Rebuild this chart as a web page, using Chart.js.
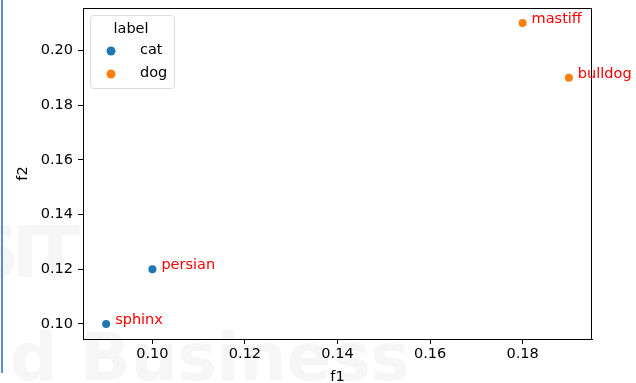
<!DOCTYPE html>
<html>
<head>
<meta charset="utf-8">
<script src="https://cdn.jsdelivr.net/npm/chart.js@4/dist/chart.umd.min.js"></script>
<style>
  html, body { margin: 0; padding: 0; background: #fff; }
  #wrap { position: relative; width: 636px; height: 383px; overflow: hidden; }
  #edge { position: absolute; left: 1px; top: 0; width: 2px; height: 373px; background: #5b8ad6; }
  .wm { position: absolute; font-family: "DejaVu Sans"; font-weight: bold; line-height: 1; color: #f6f6f6; white-space: nowrap; }
  canvas { position: absolute; left: 0; top: 0; }
</style>
</head>
<body>
<div id="wrap">
  <div class="wm" style="left:-32px; top:216px; font-size:72px; letter-spacing:-8px;">SIT</div>
  <div class="wm" style="left:10px; top:325px; font-size:66px;">d Business</div>
  <div id="edge"></div>
  <canvas id="chart" width="636" height="383"></canvas>
</div>
<script>
const names = ["sphinx", "persian", "mastiff", "bulldog"];
const f1 = [0.09, 0.10, 0.18, 0.19];
const f2 = [0.10, 0.12, 0.21, 0.19];
const labels = ["cat", "cat", "dog", "dog"];
const groups = ["cat", "dog"];
const groupColors = ["#1f77b4", "#ff7f0e"];
const xTicks = [0.10, 0.12, 0.14, 0.16, 0.18];
const yTicks = [0.10, 0.12, 0.14, 0.16, 0.18, 0.20];

const FONT = "DejaVu Sans";
const FS = 14.5;

const datasets = groups.map((g, gi) => ({
    label: g,
    data: f1.map((x, i) => ({ x: x, y: f2[i], g: labels[i] })).filter(p => p.g === g),
    backgroundColor: groupColors[gi],
    borderColor: groupColors[gi],
    pointRadius: 4,
    borderWidth: 0
}));

// names next to the points, plus the top/right frame
const annotate = {
    id: "annotate",
    afterDatasetsDraw(chart) {
        const ctx = chart.ctx;
        const xs = chart.scales.x, ys = chart.scales.y;
        const a = chart.chartArea;
        ctx.save();
        ctx.strokeStyle = "#000";
        ctx.lineWidth = 1;
        ctx.beginPath();
        ctx.moveTo(a.left, a.top + 0.5);
        ctx.lineTo(a.right - 0.5, a.top + 0.5);
        ctx.lineTo(a.right - 0.5, a.bottom);
        ctx.stroke();
        ctx.fillStyle = "red";
        ctx.font = FS + "px '" + FONT + "'";
        ctx.textBaseline = "middle";
        names.forEach((n, i) => {
            ctx.fillText(n, xs.getPixelForValue(f1[i]) + 9, ys.getPixelForValue(f2[i]) - 4);
        });
        ctx.restore();
    }
};

// matplotlib-like legend box inside the plot
const boxLegend = {
    id: "boxLegend",
    afterDraw(chart) {
        const ctx = chart.ctx;
        const x0 = 90, y0 = 15, w = 84, h = 73;
        ctx.save();
        ctx.fillStyle = "rgba(255,255,255,0.8)";
        ctx.strokeStyle = "#dcdcdc";
        ctx.lineWidth = 1;
        ctx.beginPath();
        ctx.roundRect(x0 + 0.5, y0 + 0.5, w, h, 3);
        ctx.fill();
        ctx.stroke();
        ctx.fillStyle = "#000";
        ctx.font = FS + "px '" + FONT + "'";
        ctx.textBaseline = "middle";
        ctx.textAlign = "center";
        ctx.fillText("label", 131, 29);
        ctx.textAlign = "left";
        groups.forEach((g, i) => {
            const cy = 51 + i * 23;
            ctx.fillStyle = groupColors[i];
            ctx.beginPath();
            ctx.arc(111, cy, 4.5, 0, Math.PI * 2);
            ctx.fill();
            ctx.fillStyle = "#000";
            ctx.fillText(g, 140, cy - 1);
        });
        ctx.restore();
    }
};

new Chart(document.getElementById("chart"), {
    type: "scatter",
    data: { datasets: datasets },
    options: {
        responsive: false,
        animation: false,
        layout: { padding: { left: 0, right: 44, top: 8, bottom: 0 } },
        plugins: { legend: { display: false }, tooltip: { enabled: false } },
        scales: {
            x: {
                min: 0.085,
                max: 0.195,
                afterBuildTicks: s => { s.ticks = xTicks.map(v => ({ value: v })); },
                afterFit: s => { s.height = 44; s.paddingLeft = 0; s.paddingRight = 0; },
                ticks: {
                    color: "#000",
                    font: { family: FONT, size: FS },
                    padding: 2,
                    maxRotation: 0,
                    callback: v => v.toFixed(2)
                },
                grid: { drawOnChartArea: false, color: "#000", tickLength: 5 },
                border: { color: "#000", width: 1 },
                title: { display: true, text: "f1", color: "#000", font: { family: FONT, size: FS }, padding: { top: 0, bottom: -3 } }
            },
            y: {
                min: 0.0945,
                max: 0.2155,
                afterBuildTicks: s => { s.ticks = yTicks.map(v => ({ value: v })); },
                afterFit: s => { s.width = 83; s.paddingTop = 0; s.paddingBottom = 0; },
                ticks: {
                    color: "#000",
                    font: { family: FONT, size: FS },
                    padding: 5,
                    callback: v => v.toFixed(2)
                },
                grid: { drawOnChartArea: false, color: "#000", tickLength: 5 },
                border: { color: "#000", width: 1 },
                title: { display: true, text: "f2", color: "#000", font: { family: FONT, size: FS }, padding: { top: 15, bottom: 0 } }
            }
        }
    },
    plugins: [annotate, boxLegend]
});
</script>
</body>
</html>
